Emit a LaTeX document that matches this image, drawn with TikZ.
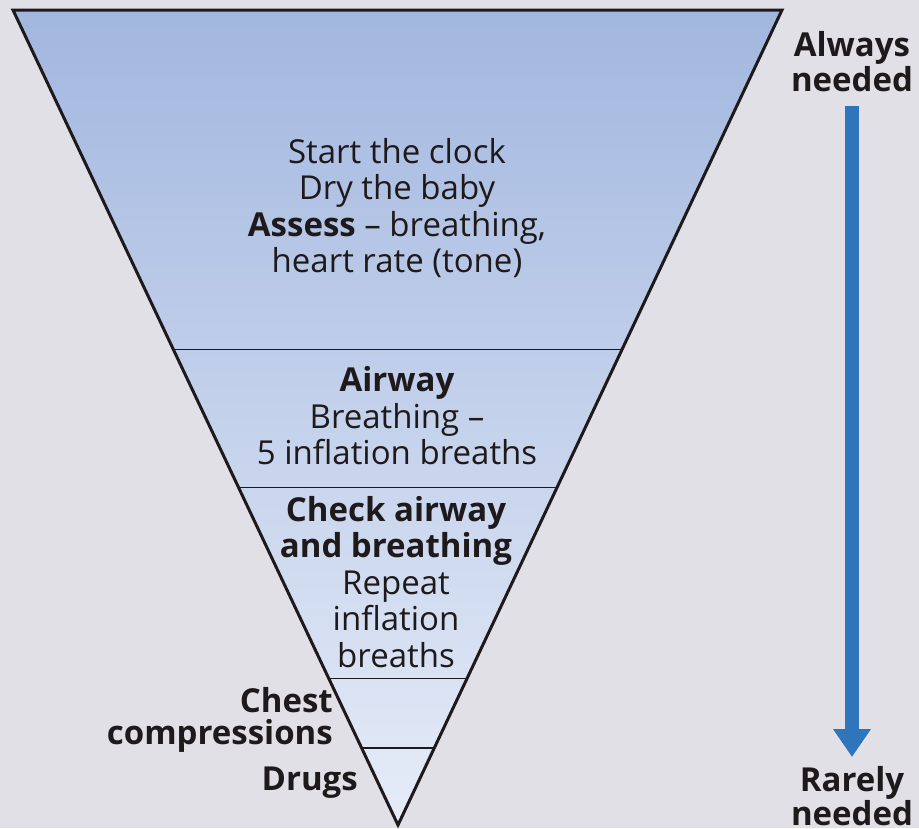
\documentclass[tikz,border=0pt]{standalone}
\usepackage{fontspec}
\setmainfont{Open Sans}
\usetikzlibrary{calc,arrows.meta}
\definecolor{bgcol}{RGB}{226,224,231}
\definecolor{topcol}{RGB}{162,183,223}
\definecolor{botcol}{RGB}{230,236,248}
\definecolor{arrcol}{RGB}{46,117,187}
\definecolor{inkcol}{RGB}{30,26,28}
\tikzset{
  stage/.style={align=center,text=inkcol,inner sep=0pt,font=\fontsize{33}{36.5}\selectfont},
  side/.style={align=right,text=inkcol,inner sep=0pt,font=\bfseries\fontsize{33}{32}\selectfont},
  divider/.style={inkcol,line width=1.3pt}
}

\begin{document}
\begin{tikzpicture}[x=1pt,y=-1pt]
  \fill [bgcol] (0,0) rectangle (919,828);
  \useasboundingbox (0,0) rectangle (919,828);
  \coordinate (tl) at (13,10);
  \coordinate (tr) at (782,10);
  \coordinate (apex) at (398,825);
  \shade [top color=topcol, bottom color=botcol] (tl) -- (tr) -- (apex) -- cycle;
  \draw [divider] ($(tl)!0.4167!(apex)$) -- ($(tr)!0.4167!(apex)$);
  \draw [divider] ($(tl)!0.5858!(apex)$) -- ($(tr)!0.5858!(apex)$);
  \draw [divider] ($(tl)!0.8199!(apex)$) -- ($(tr)!0.8199!(apex)$);
  \draw [divider] ($(tl)!0.9056!(apex)$) -- ($(tr)!0.9056!(apex)$);
  \draw [inkcol, line width=3pt, line join=miter] (tl) -- (tr) -- (apex) -- cycle;

  \node (assess) at (397,208)[stage]{Start the clock\\Dry the baby\\\textbf{Assess} -- breathing,\\heart rate (tone)};
  \node (airway) at (397,416)[stage]{\textbf{Airway}\\Breathing --\\5 inflation breaths};
  \node (check) at (396,582)[stage]{\textbf{Check airway}\\\textbf{and breathing}\\Repeat\\inflation\\breaths};
  \node (chest) at (333,720)[side, anchor=east]{Chest\\compressions};
  \node (drugs) at (358,783)[side, anchor=east]{Drugs};

  \node (always) at (852,62)[side, align=center, font=\bfseries\fontsize{33}{35}\selectfont]{Always\\needed};
  \node (rarely) at (852,796)[side, align=center, font=\bfseries\fontsize{33}{34}\selectfont]{Rarely\\needed};
  \draw [arrcol, line width=14pt, -{Triangle[width=36pt,length=28pt]}]
    (always.south |- 0,106) -- (always.south |- 0,757);
\end{tikzpicture}
\end{document}
